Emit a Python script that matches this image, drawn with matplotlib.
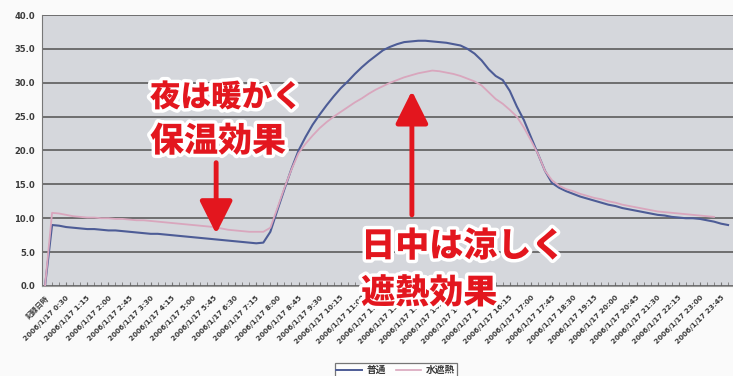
import matplotlib
matplotlib.use("Agg")
import matplotlib.pyplot as plt
import matplotlib.patheffects as pe
from matplotlib.lines import Line2D

plt.rcParams["font.family"] = ["DejaVu Sans", "Noto Sans CJK JP"]

# 15-minute readings on 2006/1/17; first category is the header cell of the sheet
times = ["記録日時"] + [f"2006/1/17 {m // 60}:{m % 60:02d}" for m in range(0, 24 * 60 + 15, 15)]

series_names = ["普通", "水遮熱"]

temp_normal = [
    0.0, 9.0, 8.9, 8.7, 8.6, 8.5, 8.4, 8.4, 8.3, 8.2,
    8.2, 8.1, 8.0, 7.9, 7.8, 7.7, 7.7, 7.6, 7.5, 7.4,
    7.3, 7.2, 7.1, 7.0, 6.9, 6.8, 6.7, 6.6, 6.5, 6.4,
    6.3, 6.4, 8.0, 11.2, 14.3, 17.3, 20.0, 22.0, 23.8, 25.3,
    26.7, 28.0, 29.2, 30.2, 31.3, 32.3, 33.2, 34.0, 34.8, 35.3,
    35.7, 36.0, 36.1, 36.2, 36.2, 36.1, 36.0, 35.9, 35.7, 35.5,
    35.0, 34.3, 33.3, 32.0, 31.0, 30.4, 28.8, 26.5, 24.5, 22.0,
    19.5, 17.0, 15.2, 14.5, 14.0, 13.6, 13.2, 12.9, 12.6, 12.3,
    12.0, 11.8, 11.5, 11.3, 11.1, 10.9, 10.7, 10.5, 10.4, 10.2,
    10.1, 10.0, 10.0, 9.9, 9.7, 9.5, 9.2, 9.0,
]

temp_shield = [
    0.0, 10.8, 10.7, 10.5, 10.3, 10.2, 10.1, 10.1, 10.0, 10.0,
    9.9, 9.9, 9.8, 9.7, 9.7, 9.6, 9.5, 9.4, 9.3, 9.2,
    9.1, 9.0, 8.9, 8.8, 8.7, 8.5, 8.3, 8.2, 8.1, 8.0,
    8.0, 8.0, 8.6, 11.5, 14.5, 17.2, 19.6, 21.0, 22.2, 23.3,
    24.2, 25.0, 25.7, 26.4, 27.1, 27.7, 28.4, 29.0, 29.5, 30.0,
    30.4, 30.8, 31.1, 31.4, 31.6, 31.8, 31.7, 31.5, 31.3, 31.0,
    30.6, 30.2, 29.6, 28.6, 27.6, 26.9, 26.0, 25.0, 23.4, 21.5,
    19.5, 17.0, 15.6, 14.8, 14.3, 14.0, 13.6, 13.3, 13.0, 12.8,
    12.5, 12.3, 12.0, 11.8, 11.6, 11.4, 11.2, 11.0, 10.9, 10.8,
    10.7, 10.6, 10.5, 10.4, 10.3, 10.2,
]

y_ticks = [0, 5, 10, 15, 20, 25, 30, 35, 40]

BLUE = "#4d5c96"
PINK = "#d9a6bd"
RED = "#e3161e"

fig = plt.figure(figsize=(7.33, 3.76), dpi=100, facecolor="#fafafa")
ax = fig.add_axes([0.0573, 0.2394, 0.9427, 0.7207])
ax.set_facecolor("#d5d7dc")

ax.plot(range(len(temp_normal)), temp_normal, color=BLUE, lw=1.5, zorder=3)
ax.plot(range(len(temp_shield)), temp_shield, color=PINK, lw=1.3, zorder=3)

ax.set_xlim(-0.43, 97.7)
ax.set_ylim(0, 40)
ax.set_yticks(y_ticks)
ax.set_yticklabels([f"{v:.1f}" for v in y_ticks], fontsize=6, fontweight="bold", color="#3a3a3a")
ax.yaxis.grid(True, color="#5c5c5c", lw=1.2)
ax.set_axisbelow(True)
ax.tick_params(axis="y", length=0, pad=5)

label_idx = list(range(0, 97, 3))
ax.set_xticks(range(len(temp_normal)), minor=True)
ax.set_xticks(label_idx)
ax.set_xticklabels([times[i] for i in label_idx], rotation=45, ha="right",
                   rotation_mode="anchor", fontsize=5.2, fontweight="bold", color="#3a3a3a")
ax.tick_params(axis="x", which="both", direction="in", length=3, color="#777", pad=6)

for side in ("top", "right"):
    ax.spines[side].set_visible(False)
ax.spines["left"].set_color("#777")
ax.spines["bottom"].set_color("#999")

# red call-outs with a white halo, drawn over the tick labels
outline = [pe.withStroke(linewidth=5, foreground="white")]
txt = dict(color=RED, fontweight="black", family=["Noto Sans CJK JP"], va="center",
           ha="left", path_effects=outline, zorder=6, clip_on=False)
ax.text(14.9, 27.9, "夜は暖かく", fontsize=22, **txt)
ax.text(14.9, 21.4, "保温効果", fontsize=24.5, **txt)
ax.text(44.9, 5.9, "日中は涼しく", fontsize=24.5, **txt)
ax.text(44.9, -1.0, "遮熱効果", fontsize=24.5, **txt)

arrow = dict(arrowstyle="-|>,head_length=1.0,head_width=0.5", color=RED, lw=3.5,
             mutation_scale=20, shrinkA=0, shrinkB=0)
ax.annotate("", xy=(24.3, 7.7), xytext=(24.3, 18.2), arrowprops=arrow, zorder=5)
ax.annotate("", xy=(52.1, 28.8), xytext=(52.1, 10.5), arrowprops=arrow, zorder=5)

handles = [Line2D([], [], color=BLUE, lw=1.4), Line2D([], [], color=PINK, lw=1.2)]
leg = fig.legend(handles, series_names, loc="upper center", bbox_to_anchor=(0.54, 0.047),
                 ncol=2, fontsize=7, frameon=True, fancybox=False, handlelength=2.6,
                 columnspacing=1.0, borderpad=0.2, handletextpad=0.5)
leg.get_frame().set_edgecolor("#555")
leg.get_frame().set_linewidth(0.9)
for t in leg.get_texts():
    t.set_fontweight("bold")
    t.set_color("#3a3a3a")

fig.savefig("out.png", dpi=100, facecolor=fig.get_facecolor())
